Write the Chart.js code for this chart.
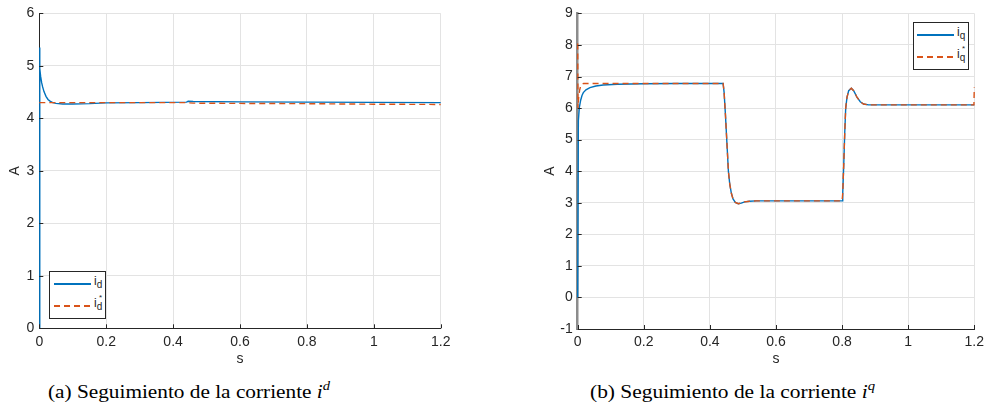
<!DOCTYPE html>
<html>
<head>
<meta charset="utf-8">
<script src="https://cdn.jsdelivr.net/npm/chart.js@4"></script>
<style>
  html, body { margin: 0; padding: 0; background: #fff; }
  body { width: 989px; height: 417px; position: relative; overflow: hidden; }
  .wrap { position: absolute; top: 0; }
  canvas { display: block; }
  .legend { position: absolute; border: 1px solid #262626; background: #fff; box-sizing: border-box; font-family: "Liberation Sans", Arial, sans-serif; color: #262626; }
  .ln { position: absolute; height: 1.5px; }
  .solid { background: #0072BD; }
  .dash { background: repeating-linear-gradient(to right, #D95319 0px, #D95319 6px, transparent 6px, transparent 10px); }
  .lbl { position: absolute; font-size: 12px; line-height: 12px; }
  .lbl sub { font-size: 10px; position: relative; top: 3px; vertical-align: baseline; }
  .lbl sup { font-size: 8px; position: absolute; left: 5px; top: -5px; }
  .cap { position: absolute; font-family: "Liberation Serif", "DejaVu Serif", serif; font-size: 19px; color: #000; white-space: nowrap; transform-origin: 0 50%; }
  .cap sup { font-size: 13px; vertical-align: 8px; line-height: 0; }
</style>
</head>
<body>
<div class="wrap" style="left:0px"><canvas id="c1" width="460" height="370"></canvas></div>
<div class="wrap" style="left:530px"><canvas id="c2" width="459" height="370"></canvas></div>

<div class="legend" style="left:49px;top:271px;width:57px;height:48px;">
  <div class="ln solid" style="left:4px;top:11px;width:37px;"></div>
  <div class="lbl" style="left:44px;top:3px;">i<sub>d</sub></div>
  <div class="ln dash" style="left:4px;top:33px;width:37px;"></div>
  <div class="lbl" style="left:44px;top:25px;">i<sup>*</sup><sub>d</sub></div>
</div>

<div class="legend" style="left:913px;top:22px;width:56px;height:48px;">
  <div class="ln solid" style="left:3px;top:11px;width:37px;"></div>
  <div class="lbl" style="left:43px;top:3px;">i<sub>q</sub></div>
  <div class="ln dash" style="left:3px;top:33px;width:37px;"></div>
  <div class="lbl" style="left:43px;top:25px;">i<sup>*</sup><sub>q</sub></div>
</div>

<div class="cap" id="capA" style="left:48px;top:381px;">(a) Seguimiento de la corriente <i>i</i><sup><i>d</i></sup></div>
<div class="cap" id="capB" style="left:590px;top:381px;">(b) Seguimiento de la corriente <i>i</i><sup><i>q</i></sup></div>

<script>
// ---------- DATA ----------
// x tick labels (seconds)
const xTickLabels = ['0', '0.2', '0.4', '0.6', '0.8', '1', '1.2'];

// (a) i_d measured
const tD   = [0, 0.0008, 0.002, 0.004, 0.007, 0.01, 0.014, 0.02, 0.026, 0.032, 0.04, 0.05, 0.07, 0.1, 0.15, 0.2, 0.3, 0.44, 0.445, 0.46, 0.6, 0.8, 0.81, 1.0, 1.2];
const idMeas = [0, 5.35, 4.95, 4.8, 4.68, 4.6, 4.51, 4.42, 4.36, 4.33, 4.30, 4.285, 4.275, 4.275, 4.28, 4.295, 4.30, 4.31, 4.325, 4.32, 4.315, 4.31, 4.31, 4.305, 4.30];
// (a) i_d reference
const tDref = [0, 0.44, 0.46, 0.6, 0.8, 1.0, 1.2];
const idRef = [4.30, 4.30, 4.29, 4.285, 4.28, 4.27, 4.265];

// (b) i_q measured
const tQ = [0, 0.002, 0.005, 0.009, 0.013, 0.017, 0.025, 0.037, 0.055, 0.077, 0.12, 0.2, 0.3, 0.44, 0.443, 0.447, 0.452, 0.456, 0.46, 0.465, 0.47, 0.477, 0.486, 0.495, 0.505, 0.52, 0.54, 0.7, 0.8, 0.802, 0.805, 0.808, 0.811, 0.815, 0.82, 0.828, 0.835, 0.845, 0.855, 0.865, 0.88, 1.0, 1.2];
const iqMeas = [0, 5.6, 6.02, 6.25, 6.4, 6.49, 6.58, 6.65, 6.7, 6.73, 6.755, 6.77, 6.78, 6.78, 6.5, 5.8, 4.8, 4.0, 3.6, 3.3, 3.12, 3.01, 2.97, 2.99, 3.03, 3.05, 3.06, 3.06, 3.06, 3.3, 4.2, 5.2, 6.0, 6.35, 6.55, 6.63, 6.55, 6.35, 6.2, 6.13, 6.1, 6.1, 6.1];
// (b) i_q reference
const tQref = [0, 0.0008, 0.003, 0.006, 0.009, 0.012, 0.018, 0.3, 0.44, 0.443, 0.447, 0.452, 0.456, 0.46, 0.465, 0.47, 0.477, 0.486, 0.495, 0.505, 0.52, 0.54, 0.7, 0.8, 0.802, 0.805, 0.808, 0.811, 0.815, 0.82, 0.828, 0.835, 0.845, 0.855, 0.865, 0.88, 1.0, 1.199, 1.2];
const iqRef = [8.05, 6.0, 6.35, 6.58, 6.7, 6.75, 6.78, 6.78, 6.78, 6.5, 5.8, 4.8, 4.0, 3.6, 3.3, 3.12, 3.01, 2.97, 2.99, 3.03, 3.05, 3.06, 3.06, 3.06, 3.3, 4.2, 5.2, 6.0, 6.35, 6.55, 6.63, 6.55, 6.35, 6.2, 6.13, 6.1, 6.1, 6.1, 6.65];

// ---------- CHARTS ----------
const pts = (xs, ys) => xs.map((x, i) => ({ x, y: ys[i] }));
const FONT = "'Liberation Sans', Arial, Helvetica, sans-serif";
const AX = '#262626';
const GRID = '#e3e3e3';

const inwardTicks = {
  id: 'inwardTicks',
  afterDatasetsDraw(chart) {
    const { ctx, chartArea: a, scales: { x, y } } = chart;
    ctx.save();
    ctx.strokeStyle = AX;
    ctx.lineWidth = 1;
    ctx.beginPath();
    y.ticks.forEach(t => {
      const py = Math.round(y.getPixelForValue(t.value)) + 0.5;
      ctx.moveTo(a.left, py); ctx.lineTo(a.left + 4, py);
    });
    x.ticks.forEach(t => {
      const px = Math.round(x.getPixelForValue(t.value)) + 0.5;
      ctx.moveTo(px, a.bottom); ctx.lineTo(px, a.bottom - 4);
    });
    ctx.stroke();
    ctx.restore();
  }
};

function makeChart(id, cfg) {
  return new Chart(document.getElementById(id), {
    type: 'line',
    data: {
      datasets: [
        { data: pts(cfg.tRef, cfg.ref), borderColor: '#D95319', borderWidth: 1.4, borderDash: [6, 4],
          pointRadius: 0, tension: 0, clip: 4, order: 0 },
        { data: pts(cfg.tMeas, cfg.meas), borderColor: '#0072BD', borderWidth: 1.4,
          pointRadius: 0, tension: 0, clip: 4, order: 1 }
      ]
    },
    options: {
      responsive: false,
      animation: false,
      events: [],
      layout: { padding: { left: 0, top: cfg.padTop, right: cfg.padRight, bottom: 0 } },
      plugins: { legend: { display: false }, tooltip: { enabled: false } },
      scales: {
        x: {
          type: 'linear', min: 0, max: 1.2,
          afterBuildTicks: s => { s.ticks = xTickLabels.map(v => ({ value: parseFloat(v) })); },
          ticks: { callback: (v) => xTickLabels.find(l => Math.abs(parseFloat(l) - v) < 1e-9) ?? '',
                   color: AX, font: { family: FONT, size: 14 }, padding: 5, maxRotation: 0, autoSkip: false },
          grid: { color: GRID, lineWidth: 1, drawTicks: false },
          border: { display: true, color: AX, width: 1 },
          title: { display: true, text: 's', color: AX, font: { family: FONT, size: 14 }, padding: { top: 0, bottom: 2 } },
          afterFit: s => { s.height = cfg.xH; }
        },
        y: {
          type: 'linear', min: cfg.yMin, max: cfg.yMax,
          ticks: { stepSize: 1, color: AX, font: { family: FONT, size: 14 }, padding: 5 },
          grid: { color: GRID, lineWidth: 1, drawTicks: false },
          border: { display: true, color: cfg.yBorderColor, width: cfg.yBorderWidth },
          title: { display: true, text: 'A', color: AX, font: { family: FONT, size: 14 }, padding: { top: cfg.yTitlePad, bottom: 0 } },
          afterFit: s => { s.width = cfg.yW; }
        }
      }
    },
    plugins: [inwardTicks]
  });
}

makeChart('c1', {
  tMeas: tD, meas: idMeas, tRef: tDref, ref: idRef,
  yMin: 0, yMax: 6, padTop: 11.7, padRight: 19.3, xH: 41.7, yW: 39.3, yTitlePad: 6.6,
  yBorderColor: AX, yBorderWidth: 1
});
makeChart('c2', {
  tMeas: tQ, meas: iqMeas, tRef: tQref, ref: iqRef,
  yMin: -1, yMax: 9, padTop: 12.3, padRight: 9.7, xH: 41, yW: 47.7, yTitlePad: 11.6,
  yBorderColor: '#8c8c8c', yBorderWidth: 2.5
});

// fit caption widths to reference
[['capA', 282], ['capB', 285]].forEach(([id, w]) => {
  const el = document.getElementById(id);
  const cw = el.getBoundingClientRect().width;
  if (cw > 0) el.style.transform = 'scaleX(' + (w / cw) + ')';
});
</script>
</body>
</html>
